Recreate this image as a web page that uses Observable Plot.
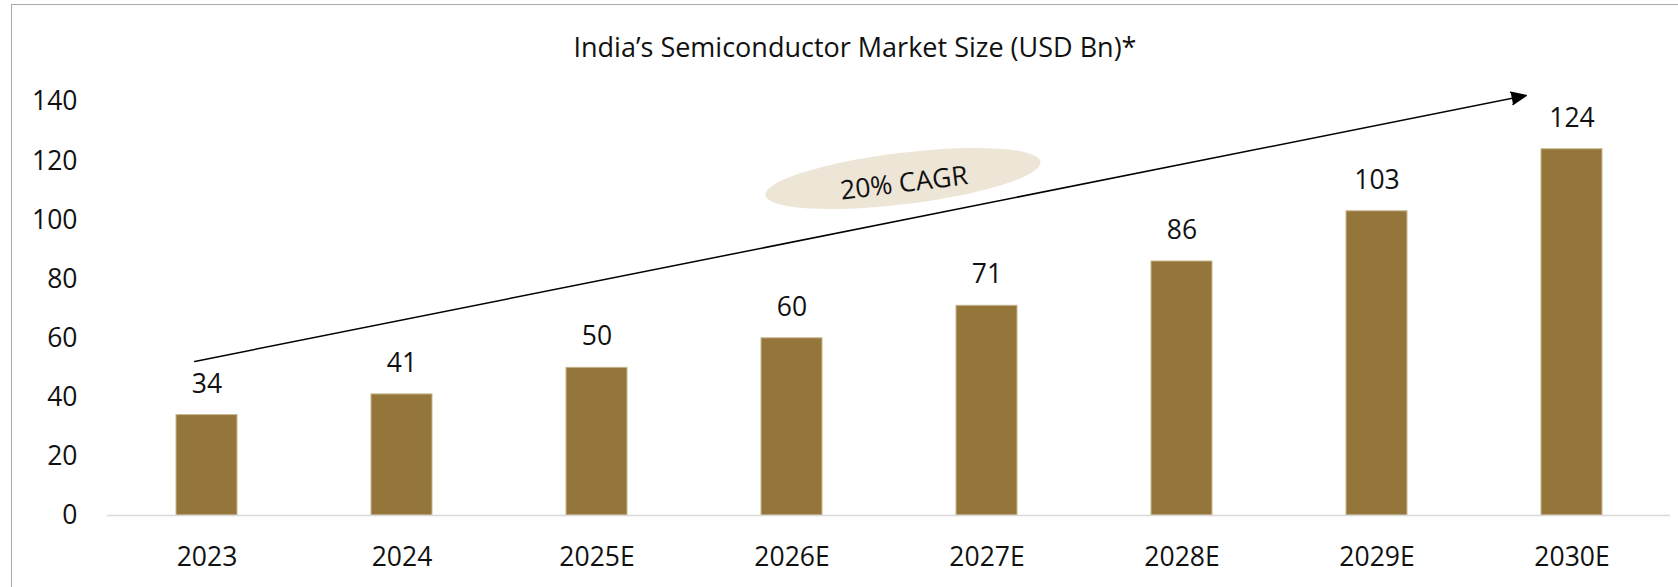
<!DOCTYPE html>
<html>
<head>
<meta charset="utf-8">
<script src="https://cdn.jsdelivr.net/npm/d3@7"></script>
<script src="https://cdn.jsdelivr.net/npm/@observablehq/plot@0.6"></script>
<style>
  html, body { margin: 0; padding: 0; background: #fff; overflow: hidden; }
  #page { position: relative; width: 1678px; height: 587px; font-family: "Open Sans", sans-serif; color: #111; }
  #frame { position: absolute; left: 11px; top: 4px; width: 1700px; height: 620px;
           border-top: 1.5px solid #a9a9a9; border-left: 1.5px solid #a9a9a9; pointer-events: none; }
  #title { height: 70px; box-sizing: border-box; padding-top: 30px; padding-left: 32px;
           line-height: 34px; font-size: 27px; text-align: center; white-space: nowrap; }
  #chart svg { display: block; }
</style>
</head>
<body>
<div id="page">
  <div id="frame"></div>
  <div id="title">India’s Semiconductor Market Size (USD Bn)*</div>
  <div id="chart"></div>
</div>
<script>
// ---- data ----
const years = ["2023", "2024", "2025E", "2026E", "2027E", "2028E", "2029E", "2030E"];
const marketSize = [34, 41, 50, 60, 71, 86, 103, 124];
const yTicks = [0, 20, 40, 60, 80, 100, 120, 140];
const cagrText = "20% CAGR";

const rows = years.map((year, i) => ({year, value: marketSize[i]}));

// rotated ellipse as a custom symbol
const ellipseSymbol = {
  draw(ctx) {
    const a = 138.5, b = 25.7, t = -6.9 * Math.PI / 180;
    const n = 90;
    for (let i = 0; i <= n; i++) {
      const u = i / n * 2 * Math.PI;
      const ex = a * Math.cos(u), ey = b * Math.sin(u);
      const px = ex * Math.cos(t) - ey * Math.sin(t);
      const py = ex * Math.sin(t) + ey * Math.cos(t);
      if (i === 0) ctx.moveTo(px, py); else ctx.lineTo(px, py);
    }
    ctx.closePath();
  }
};

const FS = 26.5;
const chart = Plot.plot({
  width: 1678,
  height: 517,
  marginLeft: 107,
  marginRight: 8,
  marginTop: 31.5,
  marginBottom: 72,
  style: {fontFamily: "Open Sans, sans-serif", fontSize: FS + "px", color: "#111", background: "transparent", overflow: "visible"},
  x: {domain: years, paddingInner: 0.688, paddingOuter: 0.344, label: null},
  y: {domain: [0, 140], label: null},
  marks: [
    Plot.axisY({ticks: yTicks, tickSize: 0, tickPadding: 30, fontSize: FS, label: null}),
    Plot.axisX({tickSize: 0, tickPadding: 32, fontSize: FS, label: null}),
    Plot.barY(rows, {x: "year", y: "value", fill: "#94763A", stroke: "#c8b78e", strokeWidth: 1}),
    Plot.ruleY([0], {stroke: "#d9d9d9", strokeWidth: 1.6}),
    Plot.text(rows, {x: "year", y: "value", text: d => String(d.value), dy: -31, fontSize: FS, fill: "#111"}),
    // CAGR annotation: ellipse + label
    Plot.dot([cagrText], {x: () => "2027E", y: () => 114.1, dx: -84, r: 1, symbol: ellipseSymbol, fill: "#EDE5D6", stroke: "none"}),
    Plot.text([cagrText], {x: () => "2027E", y: () => 112.4, dx: -83, text: d => d, rotate: -7, fontSize: FS, fill: "#111"}),
    // growth arrow
    Plot.arrow([{x1: "2023", y1: 53.0, x2: "2030E", y2: 145.3}], {
      x1: "x1", y1: "y1", x2: "x2", y2: "y2",
      insetStart: -12.5, insetEnd: 46.6,
      stroke: "#000", fill: "#000", strokeWidth: 1.5, headLength: 16, headAngle: 46
    })
  ]
});
document.getElementById("chart").appendChild(chart);
</script>
</body>
</html>
